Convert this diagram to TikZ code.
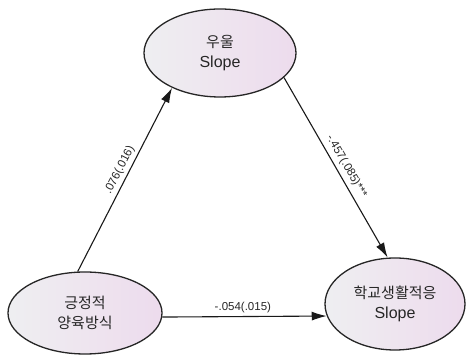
\documentclass[tikz,border=0pt]{standalone}
\usepackage{fontspec}
\setmainfont{Liberation Sans}
\newfontfamily\kr{Noto Sans CJK KR}
\newcommand{\krtext}[1]{{\kr\fontsize{15}{20}\selectfont #1}}
\usetikzlibrary{shapes.geometric,arrows.meta}
\begin{document}
\begin{tikzpicture}[x=1pt,y=1pt,
  latent/.style={ellipse, draw=black!85, line width=1.3pt, inner sep=0pt,
    left color=blue!8!gray!12, right color=violet!14!white, shading angle=90,
    align=center, font=\fontsize{16}{20}\selectfont, text=black!85},
  path/.style={line width=1.1pt, draw=black!90, -{Latex[length=15pt,width=9pt]}},
  est/.style={font=\fontsize{11.5}{13}\selectfont, text=black!85, inner sep=1pt}]
\useasboundingbox (0,0) rectangle (466,355);
\node[latent, minimum width=152, minimum height=88] (dep) at (220,302)
  {\krtext{우울}\\Slope};
\node[latent, minimum width=154, minimum height=82] (par) at (85,42)
  {\krtext{긍정적}\\\krtext{양육방식}};
\node[latent, minimum width=140, minimum height=92] (adj) at (395,51)
  {\krtext{학교생활적응}\\Slope};
\draw[path] (par.100) -- node[est, sloped, above=2pt, pos=0.53] {.076(.016)} (dep.216);
\draw[path] (dep.-21) -- node[est, sloped, above=3pt, pos=0.52] {-.457(.085)***} (adj.99);
\draw[path] (par.-3) -- node[est, above=2pt, pos=0.49] {-.054(.015)} (adj.190);
\end{tikzpicture}
\end{document}
